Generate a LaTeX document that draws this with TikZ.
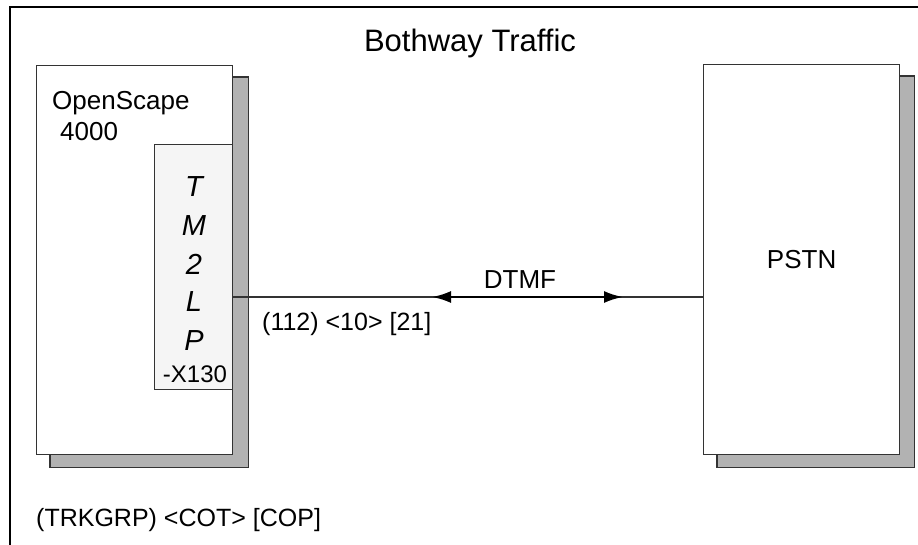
\documentclass[tikz,border=0pt]{standalone}
\usepackage{fontspec}
\setmainfont{Liberation Sans}
\usetikzlibrary{arrows.meta,backgrounds}
\definecolor{shadowgray}{HTML}{B2B2B2}
\definecolor{edgegray}{HTML}{333333}
\definecolor{cardfill}{HTML}{F5F5F5}
\tikzset{
  sysbox/.style={draw=edgegray, line width=1.2pt, fill=white, inner sep=0pt, anchor=north west},
  cardbox/.style={draw=edgegray, line width=1.2pt, fill=cardfill, inner sep=0pt, anchor=north west},
  shadowbox/.style={draw=edgegray, line width=1.2pt, fill=shadowgray},
  lbl/.style={inner sep=0pt, font=\fontsize{26}{31}\selectfont},
  smalllbl/.style={inner sep=0pt, font=\fontsize{25}{30}\selectfont},
  cardletter/.style={inner sep=0pt, anchor=base, font=\fontsize{29}{35}\selectfont\itshape},
  conn/.style={draw=edgegray, line width=1.2pt},
  dtmfarrow/.style={line width=2.4pt, {Latex[length=19pt,width=12pt]}-{Latex[length=19pt,width=12pt]}}
}
\begin{document}
\begin{tikzpicture}[x=1pt,y=-1pt]
\useasboundingbox (0,0) rectangle (918,545);
% outer frame (top and left edges visible)
\draw[line width=2pt] (10,546) -- (10,7) -- (919,7);
% title
\node[inner sep=0pt, anchor=base, font=\fontsize{31}{36}\selectfont] (title) at (470,52) {Bothway Traffic};
% OpenScape box
\node[sysbox, minimum width=196pt, minimum height=389pt] (os) at (36,65) {};
\node[lbl, anchor=base west] (osname) at (52,110) {OpenScape};
\node[lbl, anchor=base west] (osnum) at (60,141) {4000};
% TM2LP card
\node[cardbox, minimum width=78pt, minimum height=245pt] (tm) at (154,144) {};
\node[cardletter] (tmT) at (194,197) {T};
\node[cardletter] (tmM) at (194,236) {M};
\node[cardletter] (tm2) at (194,275) {2};
\node[cardletter] (tmL) at (194,312) {L};
\node[cardletter] (tmP) at (194,350) {P};
\node[inner sep=0pt, anchor=base, font=\fontsize{24}{28}\selectfont] (tmx) at (195,382) {-X130};
% PSTN box
\node[sysbox, minimum width=196pt, minimum height=390pt, font=\fontsize{26}{31}\selectfont] (pstn) at (703,64) {PSTN};
% shadows
\begin{scope}[on background layer]
  \draw[shadowbox] ([shift={(14,12)}]os.north west) rectangle ([shift={(15,12)}]os.south east);
  \draw[shadowbox] ([shift={(14,12)}]pstn.north west) rectangle ([shift={(14,12)}]pstn.south east);
\end{scope}
% connector
\coordinate (portA) at (tm.east |- 0,297);
\coordinate (portB) at (pstn.west |- 0,297);
\coordinate (dA) at (432,297);
\coordinate (dB) at (623,297);
\draw[conn] (portA) -- (portB);
\draw[dtmfarrow] (dA) -- (dB);
\node[lbl, anchor=base] (dtmf) at (520,289) {DTMF};
\node[smalllbl, anchor=base west] (port) at (262,330) {(112) <10> [21]};
% legend
\node[smalllbl, anchor=base west] (legend) at (36,526) {(TRKGRP) <COT> [COP]};
\end{tikzpicture}
\end{document}
